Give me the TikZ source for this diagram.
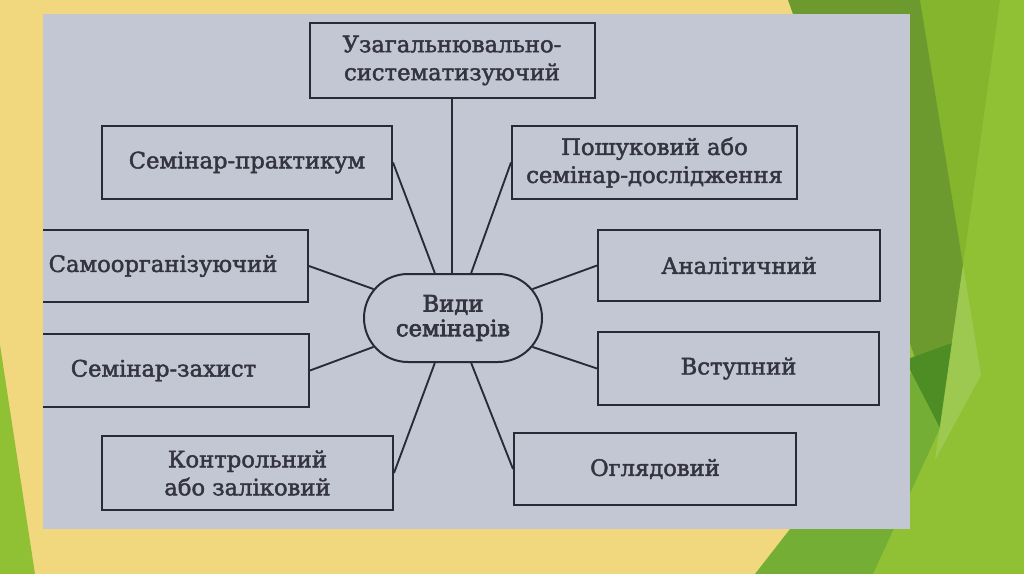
\documentclass[tikz,border=0pt]{standalone}
\usepackage{fontspec}
\newfontfamily\tx[FakeBold=2]{DejaVu Serif}
\newfontfamily\txb[FakeBold=3]{DejaVu Serif}
\usetikzlibrary{shapes.misc}
\definecolor{yel}{HTML}{F1D77E}
\definecolor{olive}{HTML}{6C9A2F}
\definecolor{dkgreen}{HTML}{4D8D24}
\definecolor{midgreen}{HTML}{75AE34}
\definecolor{ltgreen}{HTML}{90C134}
\definecolor{medgreen}{HTML}{84B52D}
\definecolor{pale}{HTML}{A5CD5C}
\definecolor{paper}{HTML}{C3C7D4}
\definecolor{ink}{HTML}{2A2A35}
\definecolor{txt}{HTML}{34343F}
\tikzset{
  box/.style={draw=ink, line width=1.5pt, inner sep=0pt, align=center,
    text=txt, font=\tx\fontsize{17}{21}\selectfont},
  hub/.style={draw=ink, line width=1.5pt, rounded rectangle, inner sep=0pt,
    minimum width=133.5pt, minimum height=66pt, align=center,
    text=txt, font=\txb\fontsize{17}{18.5}\selectfont},
  link/.style={draw=ink, line width=1.4pt}
}
\begin{document}
\begin{tikzpicture}[x=0.75pt,y=-0.75pt]
\useasboundingbox (0,0) rectangle (1024,574);
% slide background
\fill[yel] (0,0) rectangle (1024,574);
\fill[ltgreen] (900,0) -- (1024,0) -- (1024,574) -- (873,574) -- cycle;
\fill[medgreen] (920,0) -- (1000,0) -- (963,265) -- cycle;
\fill[olive] (788,0) -- (920,0) -- (963,265) -- (940,428) -- cycle;
\fill[midgreen] (755,574) -- (920,362) -- (940,428) -- (873,574) -- cycle;
\fill[dkgreen] (905,360) -- (952,343) -- (940,428) -- cycle;
\fill[pale, opacity=0.7] (963,265) -- (981,375) -- (935,460) -- cycle;
\fill[ltgreen] (0,345) -- (35,574) -- (0,574) -- cycle;
% photo
\fill[paper] (43,14) rectangle (910,529);
\begin{scope}
\clip (43,14) rectangle (910,529);
\node[hub] (c) at (453,318) {Види\\семінарів};
\node[box, minimum width=213.75pt, minimum height=56.25pt] (top) at (452,60.5) {Узагальнювально-\\систематизуючий};
\node[box, minimum width=217.5pt, minimum height=54.75pt] (prakt) at (247,162.5) {Семінар-практикум};
\node[box, minimum width=213.75pt, minimum height=54.75pt] (posh) at (654.5,162.5) {Пошуковий або\\семінар-дослідження};
\node[box, minimum width=217.5pt, minimum height=54pt] (samo) at (163,266) {Самоорганізуючий};
\node[box, minimum width=211.5pt, minimum height=53.25pt] (anal) at (739,265.5) {Аналітичний};
\node[box, minimum width=218.25pt, minimum height=54.75pt] (zakh) at (163.5,370.5) {Семінар-захист};
\node[box, minimum width=210.75pt, minimum height=54.75pt] (vstup) at (738.5,368.5) {Вступний};
\node[box, minimum width=218.25pt, minimum height=55.5pt] (kontr) at (247.5,473) {Контрольний\\або заліковий};
\node[box, minimum width=211.5pt, minimum height=54pt] (ohl) at (655,469) {Оглядовий};
\draw[link] (top.south) -- (top.south |- c.north);
\draw[link] (prakt.east) -- (c.112);
\draw[link] (posh.west) -- (c.68);
\draw[link] (samo.east) -- (c.160);
\draw[link] (anal.west) -- (c.20);
\draw[link] (zakh.east) -- (c.200);
\draw[link] (vstup.west) -- (c.340);
\draw[link] (kontr.east) -- (c.248);
\draw[link] (ohl.west) -- (c.292);
\end{scope}
\end{tikzpicture}
\end{document}
